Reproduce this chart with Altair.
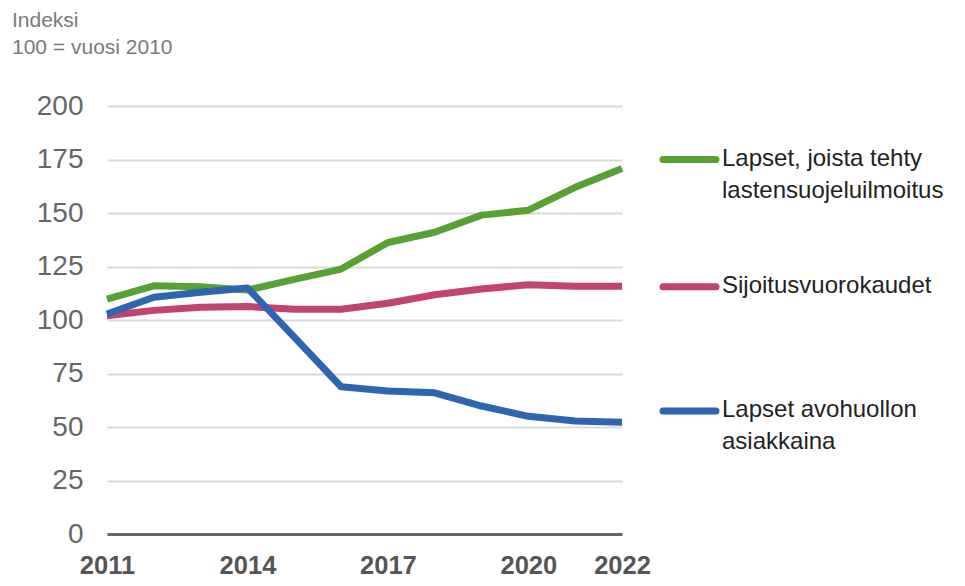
import altair as alt
import pandas as pd

years = list(range(2011, 2023))
green = [109.8, 116.0, 115.5, 114.0, 119.0, 123.8, 136.2, 141.0, 149.0, 151.3, 162.0, 170.8]
pink = [102.0, 104.5, 106.0, 106.3, 105.0, 105.0, 107.8, 111.8, 114.5, 116.5, 115.8, 115.8]
blue = [102.8, 110.6, 113.0, 115.0, 92.0, 68.8, 66.8, 66.0, 59.8, 55.0, 52.8, 52.2]

series = ["Lapset, joista tehty lastensuojeluilmoitus", "Sijoitusvuorokaudet", "Lapset avohuollon asiakkaina"]
colors = ["#58a134", "#c3426f", "#2e64b0"]
label_lines = [["Lapset, joista tehty", "lastensuojeluilmoitus"], ["Sijoitusvuorokaudet"], ["Lapset avohuollon", "asiakkaina"]]
label_y = [175, 115.5, 57.5]

rows = []
for name, vals in zip(series, [green, pink, blue]):
    for yr, v in zip(years, vals):
        rows.append({"year": yr, "value": v, "series": name})
df = pd.DataFrame(rows)

leg = pd.DataFrame({"series": series, "y": label_y, "label": label_lines})

color = alt.Color("series:N", scale=alt.Scale(domain=series, range=colors), legend=None)
yscale = alt.Scale(domain=[0, 200])

lines = alt.Chart(df).mark_line(strokeWidth=7, strokeJoin="round").encode(
    x=alt.X("year:Q", scale=alt.Scale(domain=[2011, 2022], nice=False),
            axis=alt.Axis(values=[2011, 2014, 2017, 2020, 2022], format="d", title=None,
                          grid=False, ticks=False, domainColor="#666666", domainWidth=3,
                          labelFont="Liberation Sans", labelFontSize=25.5, labelFontWeight="bold",
                          labelColor="#555555", labelPadding=19, labelFlush=False)),
    y=alt.Y("value:Q", scale=yscale,
            axis=alt.Axis(values=list(range(0, 201, 25)), title=None, domain=False, ticks=False,
                          gridColor="#d9d9d9", gridWidth=2, labelFont="Liberation Sans",
                          labelFontSize=28, labelColor="#666666", labelPadding=24)),
    color=color,
    detail="series:N",
)

rules = alt.Chart(leg).mark_rule(strokeWidth=7, strokeCap="round").encode(
    x=alt.value(556), x2=alt.value(609),
    y=alt.Y("y:Q", scale=yscale),
    color=color,
)

texts = alt.Chart(leg).mark_text(align="left", baseline="top", dy=-13, fontSize=24,
                                 font="Liberation Sans", color="#222222", lineHeight=32).encode(
    x=alt.value(615),
    y=alt.Y("y:Q", scale=yscale),
    text="label",
)

chart = alt.layer(lines, rules, texts).properties(
    width=515, height=428,
    autosize=alt.AutoSizeParams(type="none"),
    padding={"left": 99, "top": 98, "right": 330, "bottom": 44},
    title=alt.TitleParams(["Indeksi", "100 = vuosi 2010"], anchor="start", frame="group",
                          orient="top", dx=-95, offset=13, fontSize=21, fontWeight="normal",
                          font="Liberation Sans", color="#7a7a7a", lineHeight=27, baseline="bottom"),
).configure_view(stroke=None)

chart.save("out.html", embed_options={"renderer": "svg", "actions": False})
